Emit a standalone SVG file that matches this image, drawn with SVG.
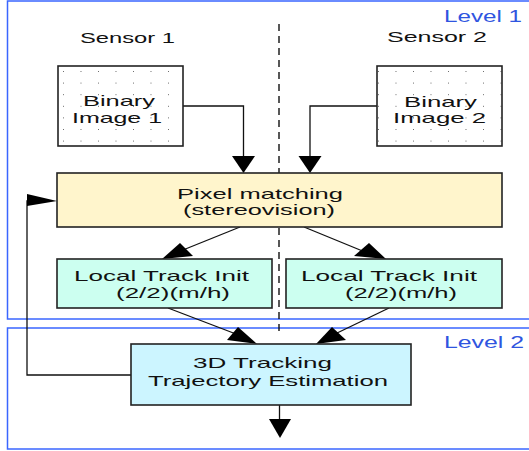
<svg xmlns="http://www.w3.org/2000/svg" width="529" height="451" viewBox="0 0 529 451">
<defs>
<pattern id="dots" x="63" y="71" width="17.5" height="11.6" patternUnits="userSpaceOnUse">
<rect x="-0.7" y="-0.7" width="1.5" height="1.5" fill="#222"/>
</pattern>
<style>
text{font-family:"Liberation Sans",Arial,sans-serif;font-size:15px;fill:#111}
.lvl{fill:#2f55e0;font-size:16px}
.box{stroke:#222;stroke-width:1.6}
.level{fill:none;stroke:#3a66ff;stroke-width:1.5}
.ln{fill:none;stroke:#111;stroke-width:1.3}
.ah{fill:#000}
</style>
</defs>
<g id="level1">
<rect class="level" x="7.5" y="1" width="530" height="318"/>
<text class="lvl" x="444" y="22" textLength="78" lengthAdjust="spacingAndGlyphs">Level 1</text>
</g>
<g id="level2">
<rect class="level" x="7.5" y="328" width="530" height="121"/>
<text class="lvl" x="444" y="348" textLength="80" lengthAdjust="spacingAndGlyphs">Level 2</text>
</g>
<g id="sensor-labels">
<text x="80" y="43" font-size="17" textLength="95" lengthAdjust="spacingAndGlyphs">Sensor 1</text>
<text x="387" y="42" font-size="17" textLength="100" lengthAdjust="spacingAndGlyphs">Sensor 2</text>
</g>
<g id="divider">
<line x1="279" y1="24" x2="279" y2="336" stroke="#111" stroke-width="1.4" stroke-dasharray="7 5"/>
</g>
<g id="connectors">
<polyline class="ln" points="183,106 243.5,106 243.5,158"/>
<polygon class="ah" points="232,156 255,156 243.5,173"/>
<polyline class="ln" points="377,106 310,106 310,158"/>
<polygon class="ah" points="298.5,156 321.5,156 310,173"/>
<polyline class="ln" points="131,375 27,375 27,201 45,201"/>
<polygon class="ah" points="27,194 57,201 27,206"/>
<line class="ln" x1="240" y1="227" x2="178" y2="252"/>
<polygon class="ah" points="162,259 180,243 193,256"/>
<line class="ln" x1="304" y1="227" x2="365" y2="252"/>
<polygon class="ah" points="354,256 369,243 386,259"/>
<line class="ln" x1="168" y1="308" x2="236" y2="334"/>
<polygon class="ah" points="227,340 238,327 257,344"/>
<line class="ln" x1="389" y1="308" x2="335" y2="334"/>
<polygon class="ah" points="316,344 332,327 346,340"/>
<line class="ln" x1="279.5" y1="405" x2="279.5" y2="422"/>
<polygon class="ah" points="269,419 291,419 280,438"/>
</g>
<g id="binary1">
<rect class="box" x="58" y="66" width="125" height="80" fill="#fff"/>
<rect x="58" y="66" width="125" height="80" fill="url(#dots)"/>
<text x="83" y="106" textLength="72" lengthAdjust="spacingAndGlyphs">Binary</text>
<text x="72" y="123" textLength="90" lengthAdjust="spacingAndGlyphs">Image 1</text>
</g>
<g id="binary2">
<rect class="box" x="377" y="66" width="125" height="80" fill="#fff"/>
<rect x="377" y="66" width="125" height="80" fill="url(#dots)"/>
<text x="404" y="107" textLength="73" lengthAdjust="spacingAndGlyphs">Binary</text>
<text x="393" y="123" textLength="93" lengthAdjust="spacingAndGlyphs">Image 2</text>
</g>
<g id="pixel-matching">
<rect class="box" x="57" y="173" width="445" height="54" fill="#fff5cc"/>
<text x="177" y="199" textLength="166" lengthAdjust="spacingAndGlyphs">Pixel matching</text>
<text x="183" y="215" textLength="152" lengthAdjust="spacingAndGlyphs">(stereovision)</text>
</g>
<g id="local-track-1">
<rect class="box" x="57" y="259" width="215" height="49" fill="#ccfff0"/>
<text x="74" y="281" textLength="175" lengthAdjust="spacingAndGlyphs">Local Track Init</text>
<text x="116" y="298" textLength="114" lengthAdjust="spacingAndGlyphs">(2/2)(m/h)</text>
</g>
<g id="local-track-2">
<rect class="box" x="286" y="259" width="216" height="49" fill="#ccfff0"/>
<text x="301" y="281" textLength="176" lengthAdjust="spacingAndGlyphs">Local Track Init</text>
<text x="345" y="298" textLength="112" lengthAdjust="spacingAndGlyphs">(2/2)(m/h)</text>
</g>
<g id="tracking-3d">
<rect class="box" x="131" y="344" width="280" height="61" fill="#ccf5ff"/>
<text x="193" y="368" textLength="139" lengthAdjust="spacingAndGlyphs">3D Tracking</text>
<text x="148" y="386" textLength="240" lengthAdjust="spacingAndGlyphs">Trajectory Estimation</text>
</g>
</svg>
